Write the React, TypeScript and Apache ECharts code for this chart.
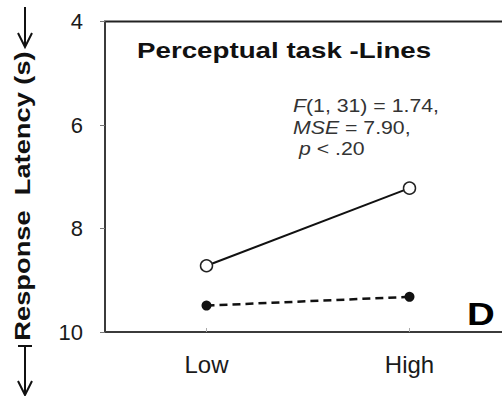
import React, { useEffect, useRef } from "react";
import * as echarts from "echarts";

// Stimulus level on the x axis
const categories = ["Low", "High"];
// Mean response latency (s) for the two conditions
const openSeries = [8.72, 7.22];
const filledSeries = [9.49, 9.32];
// Y axis (inverted: slower latencies lower down)
const yMin = 4;
const yMax = 10;
const yStep = 2;

const FONT = "'Liberation Sans', Arial, Helvetica, sans-serif";

export default function App() {
  const ref = useRef<HTMLDivElement>(null);

  useEffect(() => {
    if (!ref.current) return;
    const chart = echarts.init(ref.current, null, { renderer: "svg" });
    chart.setOption({
      animation: false,
      backgroundColor: "#ffffff",
      grid: {
        left: 105,
        top: 21.5,
        width: 406,
        bottom: 64,
        outerBoundsMode: "none",
        containLabel: false,
        show: true,
        borderColor: "#222",
        borderWidth: 2,
        backgroundColor: "transparent",
      },
      xAxis: {
        type: "category",
        data: categories,
        boundaryGap: true,
        axisLine: { show: true, lineStyle: { color: "#444", width: 1.5 } },
        axisTick: {
          show: true,
          alignWithLabel: true,
          inside: true,
          length: 4,
          lineStyle: { color: "#aaa" },
        },
        axisLabel: {
          fontFamily: FONT,
          fontSize: 24,
          color: "#1a1a1a",
          margin: 20,
        },
        splitLine: { show: false },
      },
      yAxis: {
        type: "value",
        inverse: true,
        min: yMin,
        max: yMax,
        interval: yStep,
        axisLine: { show: true, lineStyle: { color: "#444", width: 1.5 } },
        axisTick: { show: true, length: 5, lineStyle: { color: "#777" } },
        axisLabel: {
          fontFamily: FONT,
          fontSize: 22,
          color: "#1a1a1a",
          margin: 22,
        },
        splitLine: { show: false },
      },
      series: [
        {
          type: "line",
          data: filledSeries,
          symbol: "circle",
          symbolSize: 10,
          itemStyle: { color: "#111" },
          lineStyle: { color: "#111", width: 2.5, type: [8, 5] },
          z: 2,
        },
        {
          type: "line",
          data: openSeries,
          symbol: "circle",
          symbolSize: 12,
          itemStyle: { color: "#fff", borderColor: "#222", borderWidth: 1.5 },
          lineStyle: { color: "#111", width: 2 },
          z: 3,
        },
      ],
      graphic: [
        // Panel title
        {
          type: "text",
          x: 137,
          y: 50,
          scaleX: 1.26,
          style: {
            text: "Perceptual task -Lines",
            fontFamily: FONT,
            fontWeight: "bold",
            fontSize: 22,
            fill: "#111",
            align: "left",
            verticalAlign: "middle",
          },
        },
        // ANOVA result
        {
          type: "text",
          x: 293,
          y: 95,
          scaleX: 1.15,
          style: {
            text: "{i|F}(1, 31) = 1.74,\n{i|MSE} = 7.90,\n {i|p} < .20",
            fontFamily: FONT,
            fontSize: 18.5,
            lineHeight: 21.5,
            fill: "#333",
            align: "left",
            verticalAlign: "top",
            rich: {
              i: { fontStyle: "italic", fontFamily: FONT, fontSize: 18.5, fill: "#333" },
            },
          },
        },
        // Panel letter
        {
          type: "text",
          x: 467,
          y: 314,
          scaleX: 1.2,
          style: {
            text: "D",
            fontFamily: FONT,
            fontWeight: "bold",
            fontSize: 32,
            fill: "#000",
            align: "left",
            verticalAlign: "middle",
          },
        },
        // Y axis title
        {
          type: "text",
          x: 22,
          y: 196,
          rotation: Math.PI / 2,
          scaleX: 1.24,
          style: {
            text: "Response  Latency (s)",
            fontFamily: FONT,
            fontWeight: "bold",
            fontSize: 22,
            fill: "#111",
            align: "center",
            verticalAlign: "middle",
          },
        },
        // Arrow above the axis title
        {
          type: "line",
          shape: { x1: 25, y1: 7, x2: 25, y2: 46 },
          style: { stroke: "#111", lineWidth: 2 },
        },
        {
          type: "polyline",
          shape: { points: [[18, 33], [25, 47], [32, 33]] },
          style: { stroke: "#111", lineWidth: 2, fill: "none" },
        },
        // Arrow below the axis title
        {
          type: "line",
          shape: { x1: 18, y1: 346, x2: 32, y2: 346 },
          style: { stroke: "#111", lineWidth: 2 },
        },
        {
          type: "line",
          shape: { x1: 25, y1: 346, x2: 25, y2: 394 },
          style: { stroke: "#111", lineWidth: 2 },
        },
        {
          type: "polyline",
          shape: { points: [[18, 381], [25, 395], [32, 381]] },
          style: { stroke: "#111", lineWidth: 2, fill: "none" },
        },
      ],
    });
    return () => chart.dispose();
  }, []);

  return (
    <div
      ref={ref}
      style={{ position: "fixed", left: 0, top: 0, width: 502, height: 396 }}
    />
  );
}
